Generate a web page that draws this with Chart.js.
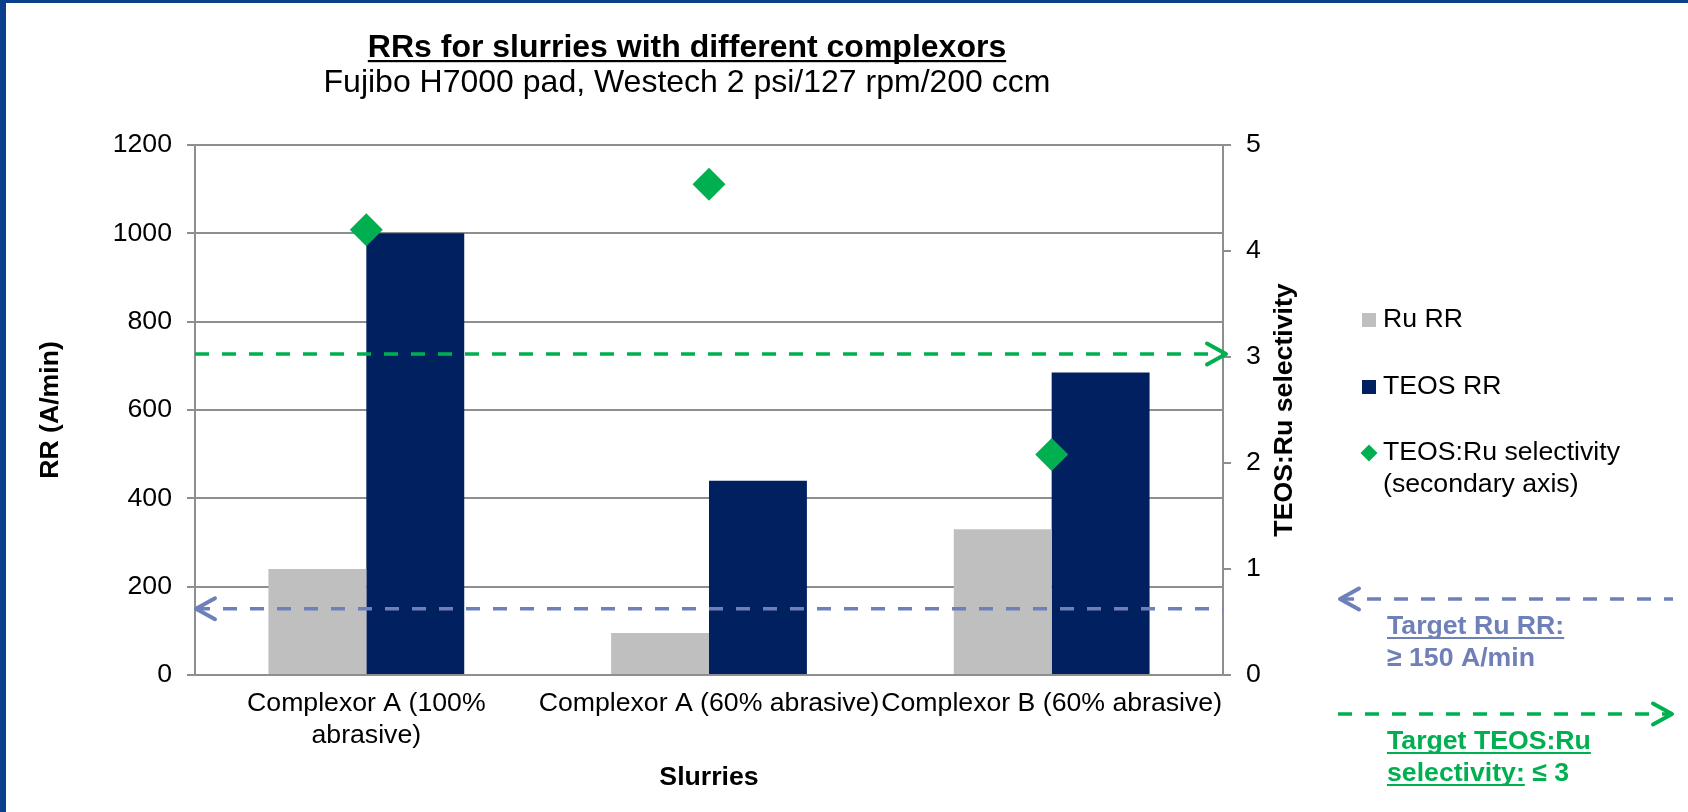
<!DOCTYPE html>
<html>
<head>
<meta charset="utf-8">
<script src="https://cdn.jsdelivr.net/npm/chart.js@4.4.0/dist/chart.umd.min.js"></script>
<style>
html,body{margin:0;padding:0;background:#fff;overflow:hidden}
canvas{display:block}
</style>
</head>
<body>
<canvas id="c" width="1688" height="812"></canvas>
<script>
// ---------------- data ----------------
const categories = [['Complexor A (100%', 'abrasive)'], 'Complexor A (60% abrasive)', 'Complexor B (60% abrasive)'];
const ruRR = [240, 95, 330];
const teosRR = [1000, 440, 685];
const selectivity = [4.2, 4.63, 2.08];
const rrAxis = { min: 0, max: 1200, step: 200 };
const selAxis = { min: 0, max: 5, step: 1 };
const targetRuRR = 150;
const targetSelectivity = 3;
const legendLines = [['Ru RR'], ['TEOS RR'], ['TEOS:Ru selectivity', '(secondary axis)']];
const titleText = 'RRs for slurries with different complexors';
const subtitleText = 'Fujibo H7000 pad, Westech 2 psi/127 rpm/200 ccm';
const xTitle = 'Slurries';
const yTitle = 'RR (A/min)';
const y2Title = 'TEOS:Ru selectivity';
const noteRu = [['Target Ru RR:', true], ['\u2265 150 A/min', false]];
const noteSel = [[['Target TEOS:Ru', true]], [['selectivity:', true], [' \u2264 3', false]]];

// ---------------- style ----------------
const FONT = '"Liberation Sans", Arial, sans-serif';
const FS = 26.67;
const COL = { gray: '#BFBFBF', navy: '#002060', green: '#00B050', slate: '#6F80B8', axis: '#8E8E8E', frame: '#0B3F8C' };

function dashedArrow(ctx, xa, xb, y, color, head) {
  ctx.save();
  ctx.strokeStyle = color;
  ctx.lineWidth = 3.5;
  ctx.setLineDash([14, 13]);
  ctx.beginPath();
  ctx.moveTo(xa, y);
  ctx.lineTo(xb, y);
  ctx.stroke();
  ctx.setLineDash([]);
  ctx.lineWidth = 4;
  ctx.lineCap = 'round';
  ctx.lineJoin = 'round';
  const tip = head === 'left' ? xa : xb;
  const d = head === 'left' ? 19 : -19;
  ctx.beginPath();
  ctx.moveTo(tip + d, y - 10.5);
  ctx.lineTo(tip, y);
  ctx.lineTo(tip + d, y + 10.5);
  ctx.stroke();
  ctx.restore();
}

function runs(ctx, parts, x, y, font, color) {
  ctx.font = font;
  ctx.fillStyle = color;
  ctx.textAlign = 'left';
  ctx.textBaseline = 'alphabetic';
  let cx = x;
  for (const [s, ul] of parts) {
    ctx.fillText(s, cx, y);
    const w = ctx.measureText(s).width;
    if (ul) { ctx.fillRect(cx, y + 3, w, 2); }
    cx += w;
  }
}

const decor = {
  id: 'decor',
  beforeDraw(chart) {
    const ctx = chart.ctx;
    ctx.save();
    ctx.fillStyle = '#fff';
    ctx.fillRect(0, 0, chart.width, chart.height);
    ctx.fillStyle = COL.frame;
    ctx.fillRect(0, 0, chart.width, 3);
    ctx.fillRect(0, 0, 6, chart.height);
    ctx.restore();
  },
  afterDatasetsDraw(chart) {
    const ctx = chart.ctx;
    const a = chart.chartArea;
    const yS = chart.scales.y, y2S = chart.scales.y2;
    dashedArrow(ctx, a.left + 1, a.right, yS.getPixelForValue(targetRuRR), COL.slate, 'left');
    dashedArrow(ctx, a.left, a.right + 3, y2S.getPixelForValue(targetSelectivity) - 3, COL.green, 'right');
  },
  afterDraw(chart) {
    const ctx = chart.ctx;
    const a = chart.chartArea;
    ctx.save();
    // title
    ctx.fillStyle = '#000';
    ctx.textAlign = 'center';
    ctx.textBaseline = 'alphabetic';
    ctx.font = 'bold 32px ' + FONT;
    const tx = 687;
    ctx.fillText(titleText, tx, 57);
    const tw = ctx.measureText(titleText).width;
    ctx.fillRect(tx - tw / 2, 60, tw, 2.2);
    ctx.font = '32px ' + FONT;
    ctx.fillText(subtitleText, tx, 92);
    // right axis title (reads bottom-to-top)
    ctx.save();
    ctx.translate(1285, (a.top + a.bottom) / 2);
    ctx.rotate(-Math.PI / 2);
    ctx.font = 'bold ' + FS + 'px ' + FONT;
    ctx.textBaseline = 'middle';
    ctx.fillText(y2Title, 0, 0);
    ctx.restore();
    // legend
    const rows = [320, 387, 453];
    chart.data.datasets.forEach((ds, i) => {
      const cy = rows[i];
      ctx.fillStyle = ds.backgroundColor;
      if (ds.type === 'line') {
        const r = 8.5, cx = 1369;
        ctx.beginPath();
        ctx.moveTo(cx - r, cy); ctx.lineTo(cx, cy - r); ctx.lineTo(cx + r, cy); ctx.lineTo(cx, cy + r);
        ctx.closePath(); ctx.fill();
      } else {
        ctx.fillRect(1362, cy - 7, 14, 14);
      }
      ctx.fillStyle = '#000';
      ctx.textAlign = 'left';
      ctx.textBaseline = 'middle';
      ctx.font = FS + 'px ' + FONT;
      legendLines[i].forEach((ln, k) => ctx.fillText(ln, 1383, cy + k * 32));
    });
    // targets (outside the plot)
    dashedArrow(ctx, 1340, 1673, 599, COL.slate, 'left');
    runs(ctx, [noteRu[0]], 1387, 634, 'bold ' + FS + 'px ' + FONT, COL.slate);
    runs(ctx, [noteRu[1]], 1387, 666, 'bold ' + FS + 'px ' + FONT, COL.slate);
    dashedArrow(ctx, 1338, 1672, 714, COL.green, 'right');
    runs(ctx, noteSel[0], 1387, 749, 'bold ' + FS + 'px ' + FONT, COL.green);
    runs(ctx, noteSel[1], 1387, 781, 'bold ' + FS + 'px ' + FONT, COL.green);
    ctx.restore();
  }
};

Chart.defaults.font.family = FONT;
Chart.defaults.font.size = FS;
Chart.defaults.color = '#000';

const plain = (v) => String(v);

new Chart(document.getElementById('c'), {
  data: {
    labels: categories,
    datasets: [
      { type: 'bar', label: legendLines[0].join(' '), data: ruRR, backgroundColor: COL.gray, yAxisID: 'y', order: 1,
        categoryPercentage: 1 / 1.75, barPercentage: 1 },
      { type: 'bar', label: legendLines[1].join(' '), data: teosRR, backgroundColor: COL.navy, yAxisID: 'y', order: 1,
        categoryPercentage: 1 / 1.75, barPercentage: 1 },
      { type: 'line', label: legendLines[2].join(' '), data: selectivity, backgroundColor: COL.green, borderColor: COL.green,
        yAxisID: 'y2', showLine: false, pointStyle: 'rectRot', pointRadius: 16.5, pointHoverRadius: 16.5,
        pointBorderWidth: 0, order: 0 }
    ]
  },
  options: {
    responsive: false,
    animation: false,
    events: [],
    layout: { padding: { top: 145, left: 0, right: 0, bottom: 0 } },
    plugins: { legend: { display: false }, title: { display: false }, tooltip: { enabled: false } },
    scales: {
      x: {
        offset: true,
        grid: { display: true, drawOnChartArea: false, drawTicks: false },
        border: { display: true, color: COL.axis, width: 2 },
        ticks: { autoSkip: false, maxRotation: 0, minRotation: 0, padding: 13, font: { size: FS } },
        title: { display: true, text: xTitle, font: { size: FS, weight: 'bold' }, padding: { top: 0, bottom: 18 } },
        afterFit(s) { s.height = 137; }
      },
      y: {
        position: 'left',
        min: rrAxis.min, max: rrAxis.max,
        ticks: { stepSize: rrAxis.step, padding: 15, font: { size: FS }, callback: plain },
        grid: { color: COL.axis, lineWidth: 2, tickLength: 8, drawTicks: true },
        border: { display: true, color: COL.axis, width: 2 },
        title: { display: true, text: yTitle, font: { size: FS, weight: 'bold' }, padding: { top: 35, bottom: 0 } },
        afterFit(s) { s.width = 195; }
      },
      y2: {
        position: 'right',
        min: selAxis.min, max: selAxis.max,
        ticks: { stepSize: selAxis.step, padding: 15, font: { size: FS }, callback: plain },
        grid: { drawOnChartArea: false, color: COL.axis, lineWidth: 2, tickLength: 8, drawTicks: true },
        border: { display: true, color: COL.axis, width: 2 },
        afterFit(s) { s.width = 465; }
      }
    }
  },
  plugins: [decor]
});
</script>
</body>
</html>
